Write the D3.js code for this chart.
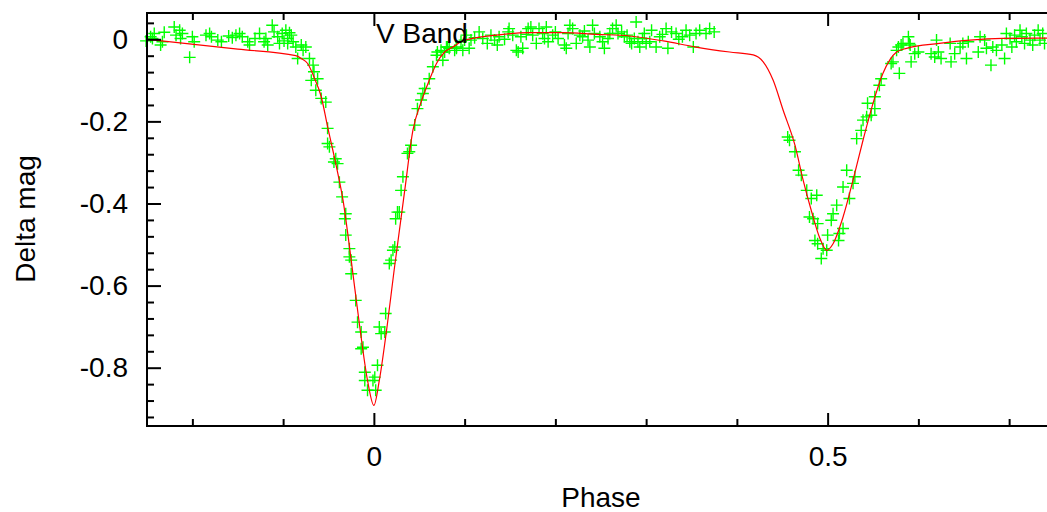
<!DOCTYPE html>
<html>
<head>
<meta charset="utf-8">
<script src="https://cdn.jsdelivr.net/npm/d3@7"></script>
<style>
	body { margin: 0; background: #fff; }
	text { font-family: "Liberation Sans", Arial, Helvetica, sans-serif; }
</style>
</head>
<body>
<script>
// observed V band points: [phase, delta mag]
const observed = [
	[-0.251,-0.004],[-0.246,0.006],[-0.242,0.014],[-0.244,0.002],[-0.235,-0.014],[-0.233,-0.006],[-0.231,0.017],
	[-0.220,0.030],[-0.218,0.010],[-0.214,0.022],[-0.211,0.014],[-0.213,0.002],[-0.203,-0.044],[-0.200,0.006],
	[-0.198,-0.006],[-0.185,0.010],[-0.181,0.014],[-0.179,0.006],[-0.172,-0.002],[-0.168,-0.006],[-0.160,0.008],
	[-0.156,0.004],[-0.152,0.010],[-0.148,0.014],[-0.145,0.006],[-0.139,-0.006],[-0.137,-0.014],[-0.131,0.002],
	[-0.126,0.014],[-0.121,-0.006],[-0.117,-0.014],[-0.119,0.002],[-0.112,0.034],[-0.110,0.018],[-0.106,0.006],
	[-0.104,-0.010],[-0.101,0.014],[-0.097,0.022],[-0.095,0.002],[-0.091,0.010],[-0.089,-0.006],[-0.095,-0.010],
	[-0.093,0.016],[-0.099,-0.004],
	[-0.086,-0.019],[-0.080,-0.014],[-0.075,-0.019],[-0.084,-0.047],[-0.078,-0.027],[-0.071,-0.047],[-0.067,-0.063],
	[-0.066,-0.079],[-0.069,-0.100],[-0.062,-0.096],[-0.064,-0.124],[-0.058,-0.144],[-0.053,-0.153],[-0.051,-0.217],
	[-0.051,-0.254],[-0.049,-0.262],[-0.044,-0.299],[-0.042,-0.291],[-0.040,-0.303],[-0.038,-0.348],[-0.035,-0.384],
	[-0.031,-0.425],[-0.032,-0.437],[-0.031,-0.477],[-0.027,-0.510],[-0.027,-0.530],[-0.025,-0.538],[-0.025,-0.571],
	[-0.020,-0.636],[-0.018,-0.689],[-0.014,-0.713],[-0.012,-0.750],[-0.014,-0.754],[-0.010,-0.811],[-0.010,-0.831],
	[-0.007,-0.855],
	[-0.001,-0.831],[0.001,-0.823],[0.002,-0.855],[0.004,-0.794],[0.008,-0.717],[0.006,-0.701],[0.012,-0.713],
	[0.013,-0.668],[0.017,-0.546],[0.019,-0.538],[0.021,-0.514],[0.023,-0.506],[0.024,-0.437],[0.026,-0.421],
	[0.028,-0.421],[0.030,-0.368],[0.032,-0.335],[0.037,-0.278],[0.039,-0.274],[0.041,-0.258],[0.045,-0.209],
	[0.048,-0.169],[0.052,-0.148],[0.054,-0.132],[0.056,-0.120],[0.061,-0.096],[0.065,-0.067],[0.069,-0.039],
	[0.070,-0.031],[0.074,-0.027],[0.076,-0.051],[0.080,-0.019],[0.083,-0.022],[0.089,-0.027],[0.091,-0.019],
	[0.098,-0.027],
	[0.078,-0.031],[0.081,-0.019],[0.091,-0.022],[0.096,-0.006],[0.102,0.010],[0.100,-0.002],[0.107,-0.002],
	[0.105,-0.022],[0.116,0.018],[0.120,0.002],[0.125,-0.010],[0.129,0.010],[0.133,-0.002],[0.136,-0.014],
	[0.138,0.006],[0.148,0.018],[0.149,0.026],[0.153,0.010],[0.157,-0.027],[0.159,-0.031],[0.164,-0.022],
	[0.162,0.006],[0.170,0.026],[0.173,0.030],[0.175,0.010],[0.179,-0.010],[0.182,0.026],[0.186,0.014],
	[0.188,0.002],[0.192,-0.006],[0.190,0.030],[0.197,0.010],[0.203,0.002],[0.210,-0.014],[0.212,-0.022],
	[0.214,0.014],[0.216,0.034],[0.219,0.026],[0.223,-0.010],[0.227,0.010],[0.230,0.006],[0.236,-0.002],
	[0.238,-0.019],[0.241,0.034],[0.243,0.014],[0.249,0.006],[0.252,-0.006],[0.254,-0.022],[0.260,0.014],
	[0.263,0.026],[0.267,0.034],[0.269,0.014],[0.273,0.018],[0.276,0.006],[0.282,-0.006],[0.284,-0.010],
	[0.287,0.002],[0.289,0.042],[0.291,-0.006],[0.293,-0.019],[0.296,0.002],[0.298,0.014],[0.304,-0.006],
	[0.306,0.022],[0.311,-0.019],[0.315,0.006],[0.322,0.026],[0.324,-0.022],[0.328,0.018],[0.333,0.014],
	[0.340,0.006],[0.344,0.022],[0.352,-0.019],[0.355,0.014],[0.359,0.022],[0.370,0.026],[0.375,0.018],
	[0.111,0.004],[0.144,0.000],[0.168,0.012],[0.200,0.018],[0.232,0.020],[0.258,0.002],[0.279,0.010],
	[0.300,-0.010],[0.318,0.012],[0.336,0.000],[0.348,0.010],[0.366,0.014],
	[0.456,-0.238],[0.458,-0.246],[0.464,-0.274],[0.468,-0.319],[0.471,-0.331],[0.477,-0.368],[0.482,-0.388],
	[0.488,-0.380],[0.480,-0.433],[0.484,-0.437],[0.489,-0.449],[0.486,-0.490],[0.489,-0.498],[0.495,-0.510],
	[0.499,-0.514],[0.493,-0.534],[0.500,-0.477],[0.504,-0.441],[0.506,-0.425],[0.510,-0.404],[0.512,-0.490],
	[0.513,-0.473],[0.517,-0.461],[0.517,-0.360],[0.521,-0.319],[0.524,-0.388],[0.528,-0.351],[0.530,-0.335],
	[0.532,-0.242],[0.537,-0.222],[0.539,-0.197],[0.543,-0.189],[0.544,-0.156],[0.548,-0.185],[0.552,-0.169],
	[0.552,-0.140],[0.557,-0.112],[0.559,-0.096],[0.572,-0.055],[0.579,-0.083],[0.578,-0.019],[0.583,-0.010],
	[0.589,0.006],[0.591,-0.014],[0.592,-0.055],[0.596,-0.035],[0.600,-0.031],[0.614,-0.035],[0.618,-0.043],
	[0.570,-0.059],[0.576,-0.027],[0.581,-0.014],[0.590,-0.010],[0.620,-0.002],[0.622,-0.031],[0.625,-0.047],
	[0.636,-0.055],[0.635,-0.010],[0.640,-0.035],[0.646,-0.019],[0.649,-0.010],[0.653,-0.047],[0.655,-0.006],
	[0.666,-0.031],[0.668,0.006],[0.673,-0.002],[0.675,-0.022],[0.680,-0.063],[0.682,-0.019],[0.686,-0.027],
	[0.692,-0.014],[0.695,-0.047],[0.697,0.014],[0.701,0.002],[0.703,-0.019],[0.706,0.010],[0.708,-0.006],
	[0.712,0.022],[0.714,0.006],[0.717,-0.010],[0.719,0.014],[0.723,-0.002],[0.726,-0.014],[0.728,0.010],
	[0.732,0.022],[0.734,-0.002],[0.737,0.014],[0.739,-0.010]
];

// model light curve
const modelPhase = [-0.25, -0.150, -0.086, -0.080, -0.073, -0.066, -0.058, -0.051, -0.042, -0.034, -0.025, -0.016,
	-0.007, 0.000, 0.006, 0.013, 0.023, 0.034, 0.043, 0.052, 0.061, 0.069, 0.078, 0.087, 0.098, 0.135, 0.171,
	0.208, 0.245, 0.282, 0.319, 0.355, 0.392, 0.418, 0.429, 0.440, 0.451, 0.464, 0.473, 0.482, 0.491, 0.499,
	0.506, 0.517, 0.528, 0.539, 0.550, 0.561, 0.576, 0.587, 0.623, 0.657, 0.693, 0.75];
const modelMag = [0.000, -0.024, -0.040, -0.047, -0.059, -0.092, -0.140, -0.213, -0.303, -0.392, -0.538, -0.693,
	-0.831, -0.892, -0.831, -0.725, -0.551, -0.368, -0.222, -0.153, -0.100, -0.059, -0.031, -0.019, -0.004, 0.010, 0.016,
	0.016, 0.012, 0.008, -0.004, -0.019, -0.031, -0.038, -0.055, -0.100, -0.173, -0.258, -0.343, -0.417, -0.482, -0.514,
	-0.498, -0.433, -0.343, -0.246, -0.156, -0.083, -0.031, -0.022, -0.010, -0.002, 0.002, 0.003];

const xMajor = [0, 0.5];
const xMinor = [-0.2, -0.1, 0.1, 0.2, 0.3, 0.4, 0.6, 0.7];
const yMajor = [0, -0.2, -0.4, -0.6, -0.8];
const yMinor = d3.range(-0.92, 0.05, 0.04).map(v => Math.round(v * 100) / 100).filter(v => yMajor.indexOf(v) < 0);

const width = 1047;
const height = 512;
const marginLeft = 147, marginTop = 13, plotW = 907.5, plotH = 413;
const fontSize = 28;

let svg = d3.select('body').append('svg')
	.attr('width', width)
	.attr('height', height);

let x = d3.scaleLinear().domain([-0.25, 0.75]).range([marginLeft, marginLeft + plotW]);
let y = d3.scaleLinear().domain([-0.942, 0.064]).range([marginTop + plotH, marginTop]);

// points first, model on top
svg.append('g')
	.selectAll('path')
	.data(observed)
	.enter().append('path')
	.attr('transform', d => `translate(${x(d[0])},${y(d[1])})`)
	.attr('d', 'M-6,0H6M0,-6V6')
	.style('stroke', '#00ff00')
	.style('stroke-width', 1.4)
	.style('fill', 'none');

let line = d3.line()
	.x((d, i) => x(modelPhase[i]))
	.y(d => y(d))
	.curve(d3.curveMonotoneX);

svg.append('path')
	.datum(modelMag)
	.attr('d', line)
	.style('fill', 'none')
	.style('stroke', '#ff0000')
	.style('stroke-width', 1.2);

function styleAxis(g) {
	g.selectAll('.domain').remove();
	g.selectAll('.tick line').style('stroke', '#000').style('stroke-width', 2);
	g.selectAll('.tick text').style('font-size', fontSize + 'px').style('fill', '#000')
		.style('font-family', '"Liberation Sans", Arial, sans-serif');
}

// plain hyphen minus like the original
let fmt = d => String(d);

svg.append('g')
	.attr('transform', `translate(0,${marginTop + plotH})`)
	.call(d3.axisBottom(x).tickValues(xMajor).tickSize(-13).tickPadding(20).tickFormat(fmt))
	.call(styleAxis);
svg.append('g')
	.attr('transform', `translate(0,${marginTop + plotH})`)
	.call(d3.axisBottom(x).tickValues(xMinor).tickSize(-7).tickFormat(''))
	.call(styleAxis);
svg.append('g')
	.attr('transform', `translate(0,${marginTop})`)
	.call(d3.axisTop(x).tickValues(xMajor).tickSize(-13).tickFormat(''))
	.call(styleAxis);
svg.append('g')
	.attr('transform', `translate(0,${marginTop})`)
	.call(d3.axisTop(x).tickValues(xMinor).tickSize(-7).tickFormat(''))
	.call(styleAxis);

svg.append('g')
	.attr('transform', `translate(${marginLeft},0)`)
	.call(d3.axisLeft(y).tickValues(yMajor).tickSize(-14).tickPadding(19).tickFormat(fmt))
	.call(styleAxis);
svg.append('g')
	.attr('transform', `translate(${marginLeft},0)`)
	.call(d3.axisLeft(y).tickValues(yMinor).tickSize(-7).tickFormat(''))
	.call(styleAxis);

// frame
svg.append('rect')
	.attr('x', marginLeft)
	.attr('y', marginTop)
	.attr('width', plotW)
	.attr('height', plotH)
	.style('fill', 'none')
	.style('stroke', '#000')
	.style('stroke-width', 2);

svg.append('text')
	.attr('x', 376)
	.attr('y', 43)
	.style('font-size', fontSize + 'px')
	.text('V Band');

svg.append('text')
	.attr('x', 601)
	.attr('y', 507)
	.attr('text-anchor', 'middle')
	.style('font-size', fontSize + 'px')
	.text('Phase');

svg.append('text')
	.attr('transform', 'translate(35,219) rotate(-90)')
	.attr('text-anchor', 'middle')
	.style('font-size', fontSize + 'px')
	.text('Delta mag');
</script>
</body>
</html>
